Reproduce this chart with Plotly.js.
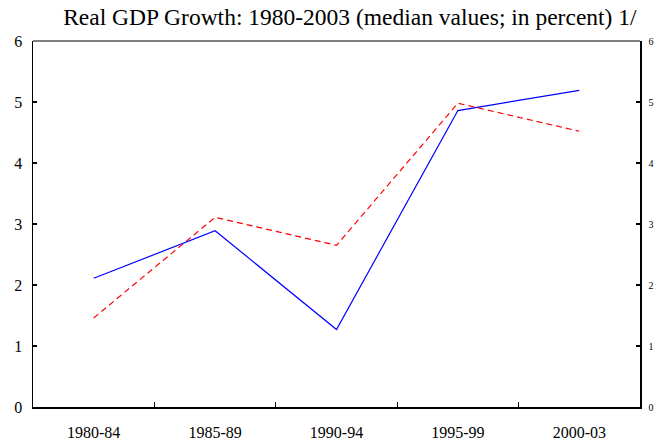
<!DOCTYPE html>
<html><head><meta charset="utf-8">
<script src="https://cdn.plot.ly/plotly-3.0.1.min.js"></script>
<style>html,body{margin:0;padding:0;background:#fff}</style>
</head><body><div id="chart" style="width:656px;height:442px"></div>
<script>
const periods = ["1980-84","1985-89","1990-94","1995-99","2000-03"];
const seriesA = [2.11, 2.89, 1.27, 4.86, 5.19];
const seriesB = [1.46, 3.11, 2.65, 4.98, 4.52];
const yTicks = [0,1,2,3,4,5,6];

const traces = [
  {x: periods, y: seriesA, type: "scatter", mode: "lines", line: {color: "#0000ff", width: 1.2}, showlegend: false, hoverinfo: "skip"},
  {x: periods, y: seriesB, type: "scatter", mode: "lines", line: {color: "#ff0000", width: 1.2, dash: "6px,4px"}, showlegend: false, hoverinfo: "skip"},
  {x: periods, y: seriesB, type: "scatter", mode: "lines", yaxis: "y2", line: {color: "rgba(0,0,0,0)", width: 0}, showlegend: false, hoverinfo: "skip"}
];

const layout = {
  width: 656, height: 442,
  margin: {l: 33, r: 16, t: 41, b: 35},
  paper_bgcolor: "#fff", plot_bgcolor: "#fff",
  font: {family: "Liberation Serif, Times New Roman, serif", color: "#000"},
  title: {text: "Real GDP Growth: 1980-2003 (median values; in percent) 1/", font: {size: 23.5, color: "#000"}, x: 0.522, xref: "paper", xanchor: "center", y: 0.9615, yref: "container", yanchor: "middle"},
  xaxis: {type: "category", range: [-0.5, 4.5], tickson: "boundaries", ticks: "inside", ticklen: 5, tickwidth: 1.3, tickcolor: "#000",
          showline: true, linecolor: "#000", linewidth: 2, showgrid: false, zeroline: false,
          tickfont: {size: 16, color: "#000"}, ticklabelstandoff: 10, fixedrange: true},
  yaxis: {range: [0, 6], tickvals: yTicks, ticks: "inside", ticklen: 4, tickwidth: 1.3, tickcolor: "#000",
          showline: true, linecolor: "#000", linewidth: 1.5, showgrid: false, zeroline: false,
          tickfont: {size: 16, color: "#000"}, ticklabelstandoff: 6},
  yaxis2: {range: [0, 6], tickvals: yTicks, overlaying: "y", side: "right", ticks: "inside", ticklen: 4, tickwidth: 1.3, tickcolor: "#000",
          showline: true, linecolor: "#000", linewidth: 1.5, showgrid: false, zeroline: false,
          tickfont: {size: 10, color: "#000"}, ticklabelstandoff: 5},
  shapes: [{type: "line", xref: "paper", yref: "paper", x0: 0, x1: 1, y0: 1, y1: 1, line: {color: "#555", width: 1.5}}]
};
Plotly.newPlot("chart", traces, layout, {staticPlot: true});
</script></body></html>
